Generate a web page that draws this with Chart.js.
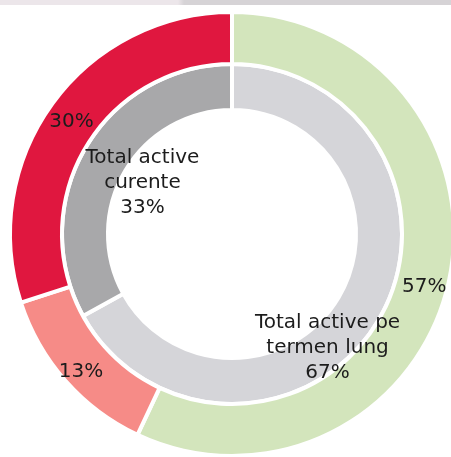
<!DOCTYPE html>
<html>
<head>
<meta charset="utf-8">
<script src="https://cdn.jsdelivr.net/npm/chart.js@4.4.0/dist/chart.umd.min.js"></script>
<style>
  html, body { margin: 0; padding: 0; background: #fff; overflow: hidden; }
  body { width: 451px; height: 457px; position: relative; }
  /* scan edge at the top of the picture */
  #edge {
    position: absolute; left: 0; top: 0; width: 451px; height: 5px;
    background: linear-gradient(to right, #ece6ea 0, #ece6ea 178px, #d6d3d6 184px, #d6d3d6 100%);
  }
  #wrap { position: absolute; left: 0; top: 0; width: 456px; height: 458px; }
</style>
</head>
<body>
<div id="edge"></div>
<div id="wrap"><canvas id="chart"></canvas></div>
<script>
// ======================================================
// Data
// ======================================================

// outer ring (percent shares)
const outerValues = [57, 13, 30];
const outerColors = ['#D3E5BC', '#F68B87', '#E0173F'];

// inner ring: total assets split
const innerCategories = [
  ['Total active pe', 'termen lung'],
  ['Total active', 'curente']
];
const innerValues = [67, 33];
const innerColors = ['#D5D5D9', '#A8A8AA'];

// label nudges from each arc's centre point, in px [dx, dy of middle line baseline]
const outerNudge = [[1, 15], [-4, 13], [-2, 8]];
const innerNudge = [[-31, 44], [37, 29]];

// ======================================================
// Label plugin
// ======================================================

const ringLabels = {
  id: 'ringLabels',
  afterDatasetsDraw(chart) {
    const ctx = chart.ctx;
    ctx.save();
    ctx.font = '20px "DejaVu Sans", Verdana, sans-serif';
    ctx.fillStyle = '#1c1c1c';
    ctx.textAlign = 'center';
    ctx.textBaseline = 'alphabetic';
    const lineH = 25;

    chart.getDatasetMeta(0).data.forEach((arc, i) => {
      const p = arc.getCenterPoint(true);
      const n = outerNudge[i];
      ctx.fillText(outerValues[i] + '%', p.x + n[0], p.y + n[1]);
    });

    chart.getDatasetMeta(1).data.forEach((arc, i) => {
      const p = arc.getCenterPoint(true);
      const n = innerNudge[i];
      const lines = innerCategories[i].concat([innerValues[i] + '%']);
      const mid = (lines.length - 1) / 2;
      lines.forEach((t, k) => {
        ctx.fillText(t, p.x + n[0], p.y + n[1] + (k - mid) * lineH);
      });
    });
    ctx.restore();
  }
};

// ======================================================
// Chart
// ======================================================

new Chart(document.getElementById('chart'), {
  type: 'doughnut',
  data: {
    labels: outerValues.map(v => v + '%'),
    datasets: [
      {
        data: outerValues,
        backgroundColor: outerColors,
        borderColor: '#ffffff',
        borderWidth: 4,
        weight: 52
      },
      {
        data: innerValues,
        backgroundColor: innerColors,
        borderColor: '#ffffff',
        borderWidth: 4,
        weight: 46
      }
    ]
  },
  options: {
    responsive: true,
    maintainAspectRatio: false,
    animation: false,
    cutout: '55.86%',
    hoverOffset: 0,
    offset: 0,
    layout: { padding: { left: 8, top: 10, right: 0, bottom: 0 } },
    plugins: {
      legend: { display: false },
      tooltip: { enabled: false },
      title: { display: false }
    }
  },
  plugins: [ringLabels]
});
</script>
</body>
</html>
